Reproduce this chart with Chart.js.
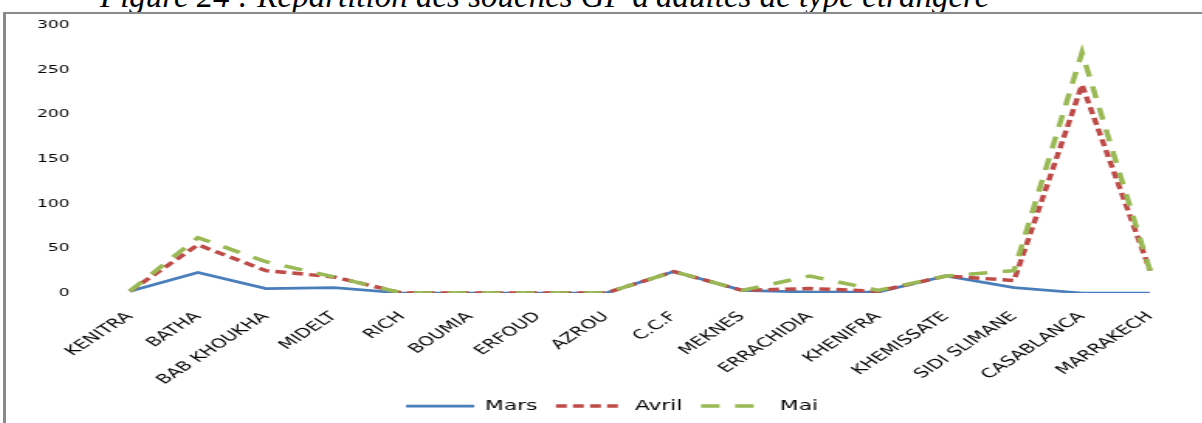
<!DOCTYPE html>
<html>
<head>
<meta charset="utf-8">
<script src="https://cdn.jsdelivr.net/npm/chart.js@4"></script>
<style>
  html, body { margin: 0; padding: 0; background: #fff; }
  body { width: 1202px; height: 423px; overflow: hidden; position: relative; }
  #title { position: absolute; left: 100px; top: -20px; white-space: nowrap;
           font-family: "Liberation Serif", "Times New Roman", serif; font-style: italic;
           font-size: 33px; line-height: 33px; color: #000; }
  #frame { position: absolute; left: 3px; top: 12px; right: -5px; bottom: -5px;
           border-left: 3px solid #8a8a8a; border-top: 2px solid #8a8a8a; }
  #c { position: absolute; left: 6px; top: 0; transform: scaleX(1.55); transform-origin: 0 0; }
</style>
</head>
<body>
<div id="title">Figure 24 : Répartition des souches GP d'adultes de type étrangère</div>
<div id="frame"></div>
<canvas id="c" width="772" height="423"></canvas>
<script>
const categories = ['KENITRA','BATHA','BAB KHOUKHA','MIDELT','RICH','BOUMIA','ERFOUD','AZROU','C.C.F','MEKNES','ERRACHIDIA','KHENIFRA','KHEMISSATE','SIDI SLIMANE','CASABLANCA','MARRAKECH'];
const mars  = [2, 23, 5, 6, 0, 0, 0, 0, 24, 3, 1, 1, 19, 6, 0, 0];
const avril = [2, 54, 25, 18, 0, 0, 0, 0, 24, 3, 5, 2, 19, 14, 233, 25];
const mai   = [2, 62, 35, 18, 0, 0, 0, 0, 24, 3, 19, 3, 19, 25, 269, 25];
const yTicks = [0, 50, 100, 150, 200, 250, 300];

const shiftLegend = {
  id: 'shiftLegend',
  afterLayout(chart) {
    if (chart.legend) { chart.legend.left += 9.5; chart.legend.right += 9.5; }
  }
};

const ctx = document.getElementById('c');
new Chart(ctx, {
  type: 'line',
  data: {
    labels: categories,
    datasets: [
      { label: 'Mars', data: mars, borderColor: '#4A7EBB', backgroundColor: '#4A7EBB',
        borderWidth: 2.75, borderDash: [], order: 2 },
      { label: 'Avril', data: avril, borderColor: '#BE4B48', backgroundColor: '#BE4B48',
        borderWidth: 3.5, borderDash: [7, 4], order: 1 },
      { label: 'Mai', data: mai, borderColor: '#98B954', backgroundColor: '#98B954',
        borderWidth: 3.5, borderDash: [12, 10], order: 0 }
    ]
  },
  plugins: [shiftLegend],
  options: {
    responsive: false,
    animation: false,
    devicePixelRatio: 1,
    layout: { padding: { left: 3, right: 12, top: 25, bottom: 0 } },
    elements: { point: { radius: 0, hoverRadius: 0 }, line: { tension: 0, borderCapStyle: 'butt' } },
    plugins: {
      tooltip: { enabled: false },
      legend: {
        position: 'bottom',
        labels: {
          usePointStyle: true, pointStyle: 'line', pointStyleWidth: 44,
          boxHeight: 14,
          padding: 12,
          color: '#000',
          font: { family: 'DejaVu Sans', size: 14 },
          generateLabels: (chart) => chart.data.datasets.map((ds, i) => ({
            text: ds.label,
            datasetIndex: i,
            fillStyle: ds.borderColor,
            strokeStyle: ds.borderColor,
            fontColor: '#000',
            lineWidth: ds.borderWidth,
            lineDash: ds.borderDash,
            lineCap: 'butt',
            pointStyle: 'line',
            hidden: false
          }))
        }
      }
    },
    scales: {
      x: {
        offset: true,
        grid: { display: false }, border: { display: false },
        ticks: { autoSkip: false, minRotation: 45, maxRotation: 45, padding: 8,
                 color: '#000', font: { family: 'DejaVu Sans', size: 13 } },
        afterFit: (s) => { s.height = 94; }
      },
      y: {
        min: 0, max: 300,
        grid: { display: false, drawTicks: false }, border: { display: false },
        afterBuildTicks: (s) => { s.ticks = yTicks.map(v => ({ value: v })); },
        ticks: { padding: 17, color: '#000', font: { family: 'DejaVu Sans', size: 11 } }
      }
    }
  }
});
</script>
</body>
</html>
